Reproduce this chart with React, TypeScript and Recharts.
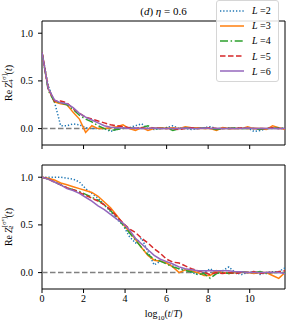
import React from 'react';
import { LineChart, Line, XAxis, YAxis, ReferenceLine, ReferenceArea, Legend } from 'recharts';

const X = [0, 0.3, 0.6, 0.9, 1.2, 1.5, 1.8, 2.1, 2.4, 2.7, 3.0, 3.3, 3.6, 3.9, 4.2, 4.5, 4.8, 5.1, 5.4, 5.7, 6.0, 6.3, 6.6, 6.9, 7.2, 7.5, 7.8, 8.1, 8.4, 8.7, 9.0, 9.3, 9.6, 9.9, 10.2, 10.5, 10.8, 11.1, 11.4, 11.7];

// top panel: Re Z_4^[sigma](t)
const topL2 = [0.80, 0.45, 0.28, 0.03, 0.03, 0.05, 0.04, 0.01, 0.0, 0.0, 0.0, -0.03, -0.01, 0.01, 0.01, 0.03, 0.05, 0.0, -0.01, 0.0, 0.01, 0.03, 0.0, 0.0, -0.01, 0.0, 0.01, 0.02, 0.0, 0.0, 0.01, 0.0, 0.0, 0.01, -0.03, -0.02, 0.0, 0.01, 0.0, 0.0];
const topL3 = [0.80, 0.42, 0.28, 0.26, 0.25, 0.17, 0.10, -0.04, 0.03, 0.0, 0.0, 0.01, 0.02, 0.04, 0.0, -0.02, 0.01, -0.02, 0.0, 0.01, 0.0, 0.01, 0.0, 0.02, 0.01, 0.01, 0.0, 0.0, -0.02, 0.01, 0.0, 0.0, 0.0, 0.02, 0.0, 0.0, -0.01, 0.03, 0.01, -0.01];
const topL4 = [0.80, 0.40, 0.28, 0.27, 0.25, 0.20, 0.14, 0.10, 0.07, 0.03, 0.0, -0.02, -0.01, 0.0, 0.01, 0.0, 0.01, 0.03, 0.0, 0.0, 0.01, -0.02, 0.0, 0.01, 0.0, 0.0, 0.01, 0.0, -0.01, 0.0, 0.0, 0.01, 0.0, 0.0, 0.0, -0.01, 0.0, 0.0, 0.01, 0.0];
const topL5 = [0.80, 0.42, 0.29, 0.29, 0.27, 0.21, 0.16, 0.12, 0.10, 0.08, 0.06, 0.04, 0.03, 0.02, 0.01, 0.0, 0.01, 0.0, 0.01, 0.0, 0.0, 0.0, -0.01, 0.0, 0.01, 0.0, 0.0, 0.01, 0.0, 0.0, 0.0, 0.0, 0.01, 0.0, 0.0, 0.0, 0.0, 0.01, 0.0, 0.0];
const topL6 = [0.80, 0.42, 0.30, 0.27, 0.26, 0.22, 0.16, 0.12, 0.09, 0.06, 0.03, 0.015, 0.01, 0.005, 0.0, 0.005, 0.0, 0.0, 0.005, 0.0, 0.0, 0.0, 0.0, 0.005, 0.0, 0.0, 0.005, 0.0, 0.0, 0.0, 0.0, 0.0, 0.0, 0.005, 0.0, 0.0, 0.0, 0.0, 0.0, 0.0];

// bottom panel: Re Z_2^[sigma^x](t)
const botL2 = [1.0, 1.0, 1.0, 1.0, 0.99, 0.98, 0.95, 0.88, 0.83, 0.78, 0.71, 0.64, 0.56, 0.50, 0.38, 0.31, 0.36, 0.22, 0.08, 0.12, 0.10, 0.07, 0.04, 0.03, 0.0, -0.02, 0.0, 0.04, 0.0, 0.02, 0.06, 0.0, -0.02, 0.0, 0.01, -0.02, 0.0, 0.01, 0.01, 0.05];
const botL3 = [1.0, 0.99, 0.97, 0.94, 0.92, 0.90, 0.88, 0.86, 0.84, 0.80, 0.74, 0.68, 0.60, 0.51, 0.43, 0.35, 0.26, 0.18, 0.13, 0.12, 0.10, 0.06, 0.0, 0.03, 0.02, 0.0, -0.03, -0.03, 0.02, 0.0, -0.01, 0.0, 0.01, 0.0, -0.01, 0.0, 0.0, -0.03, -0.06, 0.0];
const botL4 = [1.0, 0.98, 0.95, 0.92, 0.89, 0.87, 0.85, 0.82, 0.79, 0.76, 0.71, 0.65, 0.58, 0.50, 0.42, 0.34, 0.26, 0.19, 0.14, 0.12, 0.09, 0.06, 0.04, 0.02, 0.01, -0.02, -0.01, -0.06, -0.01, 0.0, -0.01, 0.0, 0.01, 0.0, 0.0, 0.01, -0.01, 0.0, 0.0, 0.0];
const botL5 = [1.0, 0.98, 0.95, 0.92, 0.89, 0.87, 0.84, 0.81, 0.78, 0.75, 0.71, 0.66, 0.59, 0.52, 0.46, 0.42, 0.36, 0.31, 0.25, 0.20, 0.14, 0.11, 0.10, 0.07, 0.04, 0.02, 0.0, -0.02, 0.0, -0.01, 0.0, -0.01, 0.0, 0.0, 0.01, -0.01, 0.0, 0.0, 0.01, 0.02];
const botL6 = [1.0, 0.98, 0.95, 0.92, 0.88, 0.86, 0.83, 0.79, 0.75, 0.70, 0.66, 0.61, 0.56, 0.52, 0.45, 0.36, 0.30, 0.24, 0.18, 0.14, 0.115, 0.09, 0.06, 0.04, 0.03, 0.02, 0.02, 0.02, 0.02, 0.02, 0.02, 0.01, 0.01, 0.0, 0.0, 0.0, 0.0, 0.0, 0.0, -0.01];

const SERIES_NAMES = ['L2', 'L3', 'L4', 'L5', 'L6'];
const SERIES_LABELS = ['2', '3', '4', '5', '6'];
const COLORS = ['#1f77b4', '#ff7f0e', '#2ca02c', '#d62728', '#9467bd'];
const DASHES = ['1.3 1.9', undefined, '8 2.6 1.5 2.6', '5.5 2.5', undefined];

const X_TICKS = [0, 2, 4, 6, 8, 10];
const Y_TICKS = [0, 0.5, 1.0];
const X_DOMAIN: [number, number] = [0, 11.7];
const Y_DOMAIN: [number, number] = [-0.172, 1.128];

const buildRows = (cols: number[][]) =>
  X.map((x, i) => {
    const r: any = { x };
    SERIES_NAMES.forEach((n, k) => (r[n] = cols[k][i]));
    return r;
  });

const topRows = buildRows([topL2, topL3, topL4, topL5, topL6]);
const botRows = buildRows([botL2, botL3, botL4, botL5, botL6]);

const FONT = "'Liberation Serif', 'DejaVu Serif', serif";
const FS = 10;
const W = 291;

const YLabel = ({ viewBox, sub, sup, back }: any) => {
  const cx = 8;
  const cy = viewBox.y + viewBox.height / 2;
  return (
    <text
      x={cx}
      y={cy}
      transform={`rotate(-90, ${cx}, ${cy})`}
      textAnchor="middle"
      dominantBaseline="central"
      fontFamily={FONT}
      fontSize={FS}
      fill="#000"
    >
      <tspan>Re</tspan>
      <tspan fontStyle="italic" dx={2}>Z</tspan>
      <tspan fontSize={7} dy={-4}>{sup}</tspan>
      <tspan fontSize={7} dx={-back} dy={7}>{sub}</tspan>
      <tspan dx={back - 4} dy={-3}>(</tspan>
      <tspan fontStyle="italic">t</tspan>
      <tspan>)</tspan>
    </text>
  );
};

const TitleLabel = ({ viewBox }: any) => {
  const cx = viewBox.x + viewBox.width / 2;
  return (
    <text x={cx} y={15} textAnchor="middle" fontFamily={FONT} fontSize={11} fill="#000">
      <tspan>(</tspan>
      <tspan fontStyle="italic">d</tspan>
      <tspan>) </tspan>
      <tspan fontStyle="italic">η</tspan>
      <tspan> = 0.6</tspan>
    </text>
  );
};

const XLabel = ({ viewBox }: any) => {
  const cx = viewBox.x + viewBox.width / 2;
  return (
    <text x={cx} y={viewBox.y + 28} textAnchor="middle" fontFamily={FONT} fontSize={FS} fill="#000">
      <tspan>log</tspan>
      <tspan fontSize={7} dy={2.5}>10</tspan>
      <tspan dy={-2.5}>(</tspan>
      <tspan fontStyle="italic">t</tspan>
      <tspan>/</tspan>
      <tspan fontStyle="italic">T</tspan>
      <tspan>)</tspan>
    </text>
  );
};

const LegendBox = ({ payload }: any) => (
  <div
    style={{
      width: 61,
      height: 78,
      border: '1px solid #d6d6d6',
      borderRadius: 3,
      background: 'rgba(255,255,255,0.85)',
      boxSizing: 'content-box',
      paddingTop: 2,
      fontFamily: FONT,
      fontSize: FS,
      lineHeight: '15.2px',
    }}
  >
    {(payload || []).map((p: any) => {
      const k = SERIES_NAMES.indexOf(p.dataKey);
      return (
        <div key={p.dataKey} style={{ height: 15.2, display: 'flex', alignItems: 'center' }}>
          <svg width={30} height={10} style={{ marginLeft: 2 }}>
            <line x1={1} y1={5} x2={25} y2={5} stroke={COLORS[k]} strokeWidth={1.5} strokeDasharray={DASHES[k]} />
          </svg>
          <span style={{ marginLeft: 3, whiteSpace: 'nowrap' }}>
            <i>L</i> =<span>{SERIES_LABELS[k]}</span>
          </span>
        </div>
      );
    })}
  </div>
);

const renderLines = () =>
  SERIES_NAMES.map((n, k) => (
    <Line
      key={n}
      dataKey={n}
      name={n}
      type="linear"
      stroke={COLORS[k]}
      strokeWidth={1.5}
      strokeDasharray={DASHES[k]}
      dot={false}
      isAnimationActive={false}
    />
  ));

const tickStyle = { fontFamily: FONT, fontSize: FS, fill: '#000' };

export default function App() {
  return (
    <div style={{ position: 'absolute', left: 0, top: 0, width: W, height: 324, background: '#fff' }}>
      <div style={{ position: 'absolute', left: 0, top: 0 }}>
        <LineChart width={W} height={160} data={topRows} margin={{ top: 21, right: 6, bottom: 0, left: 0 }}>
          <XAxis
            dataKey="x"
            type="number"
            domain={X_DOMAIN}
            ticks={X_TICKS}
            allowDataOverflow
            height={15}
            tickSize={4}
            tickFormatter={() => ''}
            stroke="#000"
            axisLine={false}
          />
          <YAxis
            type="number"
            domain={Y_DOMAIN}
            ticks={Y_TICKS}
            allowDataOverflow
            width={42}
            tickSize={4}
            tickMargin={5}
            tick={tickStyle}
            tickFormatter={(v: number) => v.toFixed(1)}
            stroke="#000"
            axisLine={false}
            label={(p: any) => <YLabel viewBox={p.viewBox} sub="4" sup="[σ]" back={9} />}
          />
          <ReferenceLine y={0} stroke="#808080" strokeWidth={1.5} strokeDasharray="5.5 2.5" />
          {renderLines()}
          <ReferenceArea
            x1={X_DOMAIN[0]}
            x2={X_DOMAIN[1]}
            y1={Y_DOMAIN[0]}
            y2={Y_DOMAIN[1]}
            fill="none"
            fillOpacity={0}
            stroke="#000"
            strokeWidth={1}
            label={(p: any) => <TitleLabel viewBox={p.viewBox} />}
          />
          <Legend
            layout="horizontal"
            verticalAlign="middle"
            align="center"
            content={<LegendBox />}
            wrapperStyle={{ position: 'absolute', left: 216, top: 0, width: 63 }}
          />
        </LineChart>
      </div>
      <div style={{ position: 'absolute', left: 0, top: 160 }}>
        <LineChart width={W} height={164} data={botRows} margin={{ top: 5, right: 6, bottom: 0, left: 0 }}>
          <XAxis
            dataKey="x"
            type="number"
            domain={X_DOMAIN}
            ticks={X_TICKS}
            allowDataOverflow
            height={35}
            tickSize={4}
            tickMargin={2}
            tick={tickStyle}
            stroke="#000"
            axisLine={false}
            label={(p: any) => <XLabel viewBox={p.viewBox} />}
          />
          <YAxis
            type="number"
            domain={Y_DOMAIN}
            ticks={Y_TICKS}
            allowDataOverflow
            width={42}
            tickSize={4}
            tickMargin={5}
            tick={tickStyle}
            tickFormatter={(v: number) => v.toFixed(1)}
            stroke="#000"
            axisLine={false}
            label={(p: any) => <YLabel viewBox={p.viewBox} sub="2" sup="[σˣ]" back={12} />}
          />
          <ReferenceLine y={0} stroke="#808080" strokeWidth={1.5} strokeDasharray="5.5 2.5" />
          {renderLines()}
          <ReferenceArea
            x1={X_DOMAIN[0]}
            x2={X_DOMAIN[1]}
            y1={Y_DOMAIN[0]}
            y2={Y_DOMAIN[1]}
            fill="none"
            fillOpacity={0}
            stroke="#000"
            strokeWidth={1}
          />
        </LineChart>
      </div>
    </div>
  );
}
